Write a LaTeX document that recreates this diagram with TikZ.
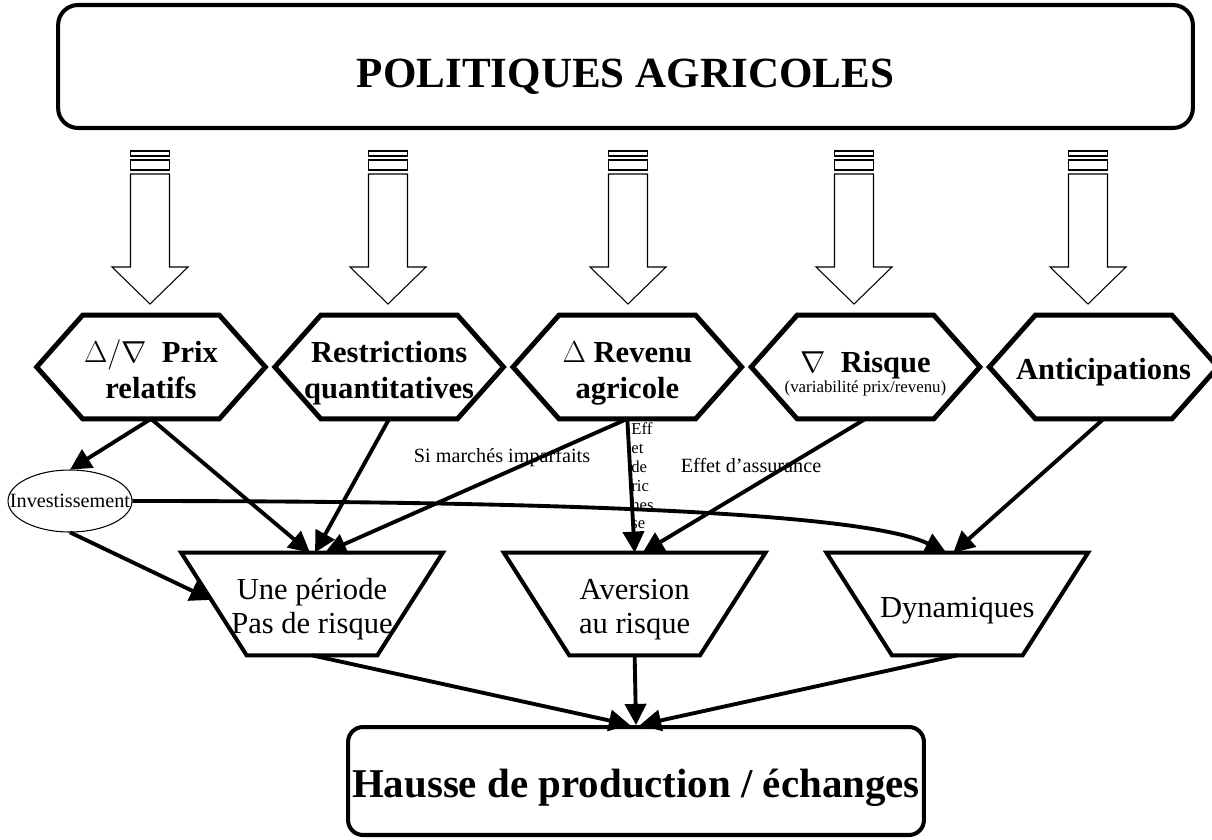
\documentclass[tikz,border=0pt]{standalone}
\usepackage{fontspec}
\setmainfont{Liberation Serif}
\usetikzlibrary{positioning,arrows.meta,calc}

\tikzset{
  hexa/.style={minimum width=4.56cm, minimum height=2.06cm, inner sep=0pt, align=center,
    font=\fontsize{17.4}{20.5}\selectfont\bfseries},
  trap/.style={minimum width=5.22cm, minimum height=2.04cm, inner sep=0pt, align=center,
    font=\fontsize{17.4}{19.4}\selectfont},
  link/.style={line width=2.2pt, -{Triangle[length=12pt,width=12pt]}},
  lbl/.style={font=\fontsize{11.5}{13}\selectfont, inner sep=0pt},
  bigbox/.style={draw, line width=2.3pt, rounded corners=0.4cm, inner sep=0pt,
    font=\bfseries},
}
% frames drawn around the (invisible) nodes
\newcommand{\hexframe}[1]{\draw[line width=2.8pt]
  (#1.west) -- ([xshift=0.92cm]#1.north west) -- ([xshift=-0.92cm]#1.north east)
  -- (#1.east) -- ([xshift=-0.92cm]#1.south east) -- ([xshift=0.92cm]#1.south west) -- cycle;}
\newcommand{\trapframe}[1]{\draw[line width=2.3pt]
  (#1.north west) -- (#1.north east) -- ([xshift=-1.31cm]#1.south east)
  -- ([xshift=1.31cm]#1.south west) -- cycle;}
% lower a text inside its node
\newcommand{\dropText}[2]{\raisebox{-#1}[\height][\depth]{#2}}
\newcommand{\twoLines}[2]{\dropText{#1}{\begin{tabular}{@{}c@{}}#2\end{tabular}}}

\begin{document}
\begin{tikzpicture}[x=0.02cm, y=-0.02cm]
  \useasboundingbox (0,0) rectangle (1212,839);

  % Title box
  \node[bigbox, minimum width=22.7cm, minimum height=2.46cm] (pol) at (625.5,66.5)
    {\dropText{0.2cm}{\fontsize{24.5}{30}\selectfont POLITIQUES AGRICOLES}};

  % Hollow arrows
  \foreach \cx in {150,388,628,854,1088}{
    \draw[line width=0.6pt] (\cx-19.5,151) rectangle (\cx+19.5,156);
    \draw[line width=0.6pt] (\cx-19.5,160) rectangle (\cx+19.5,170);
    \draw[line width=0.6pt] (\cx-19.5,174) -- (\cx-19.5,267) -- (\cx-38,267) -- (\cx,304)
      -- (\cx+38,267) -- (\cx+19.5,267) -- (\cx+19.5,174) -- cycle;
  }

  % Channels
  \node[hexa] (prix) at (151,367) {\twoLines{0.13cm}{$\Delta/\nabla$\ \ Prix\\relatifs}};
  \node[hexa, right=0.19cm of prix] (restr) {\twoLines{0.13cm}{Restrictions\\quantitatives}};
  \node[hexa, right=0.19cm of restr] (rev) {\twoLines{0.13cm}{$\Delta$ Revenu\\agricole}};
  \node[hexa, right=0.19cm of rev] (risk)
    {\twoLines{0.16cm}{$\nabla$\ \ Risque\\[-9pt]{\mdseries\fontsize{9.6}{11}\selectfont (variabilité prix/revenu)}}};
  \node[hexa, right=0.19cm of risk] (antic) {\dropText{0.1cm}{Anticipations}};
  \foreach \n in {prix,restr,rev,risk,antic}{\hexframe{\n}}

  % Models
  \node[trap] (une) at (312,604) {\twoLines{0.12cm}{Une période\\Pas de risque}};
  \node[trap, right=1.22cm of une] (aver) {\twoLines{0.12cm}{Aversion\\au risque}};
  \node[trap, right=1.22cm of aver] (dyn) {\dropText{0.14cm}{Dynamiques}};
  \foreach \n in {une,aver,dyn}{\trapframe{\n}}

  % Investment
  \node[lbl, minimum width=2.48cm, minimum height=1.24cm] (inv) at (70,501) {Investissement};
  \draw[line width=0.6pt] (inv.center) ellipse [x radius=1.24cm, y radius=0.62cm];

  % Result box
  \node[bigbox, rounded corners=0.3cm, minimum width=11.52cm, minimum height=2.16cm] (hausse)
    at (636,781) {\dropText{0.14cm}{\fontsize{23.3}{28}\selectfont Hausse de production / échanges}};

  % Links
  \coordinate (uneside) at ($(une.north west)!0.46!([xshift=1.31cm]une.south west)$);
  \draw[link] (prix.south) -- (inv.north);
  \draw[link] (prix.south) -- ([xshift=-0.04cm]une.north);
  \draw[link] (restr.south) -- ([xshift=0.06cm]une.north);
  \draw[link] (rev.south) -- ([xshift=0.26cm]une.north);
  \draw[link] (rev.south) -- (aver.north);
  \draw[link] (risk.south) -- ([xshift=0.16cm]aver.north);
  \draw[link] (antic.south) -- ([xshift=-0.08cm]dyn.north);
  \draw[link] (inv.east) .. controls (600,501) and (870,515) .. ([xshift=-0.22cm]dyn.north);
  \draw[link] (inv.south) -- (uneside);
  \draw[link] (une.south) -- ([xshift=-0.12cm]hausse.north);
  \draw[link] (aver.south) -- (hausse.north);
  \draw[link] (dyn.south) -- ([xshift=0.08cm]hausse.north);

  % Link labels
  \node[lbl] (imparf) at (502,458) {Si marchés imparfaits};
  \node[lbl] (assur) at (751,465) {Effet d’assurance};
  \node[lbl, anchor=north west, align=left, font=\fontsize{9.5}{10.8}\selectfont]
    (richesse) at (631,422) {Eff\\et\\de\\ric\\hes\\se};
\end{tikzpicture}
\end{document}
